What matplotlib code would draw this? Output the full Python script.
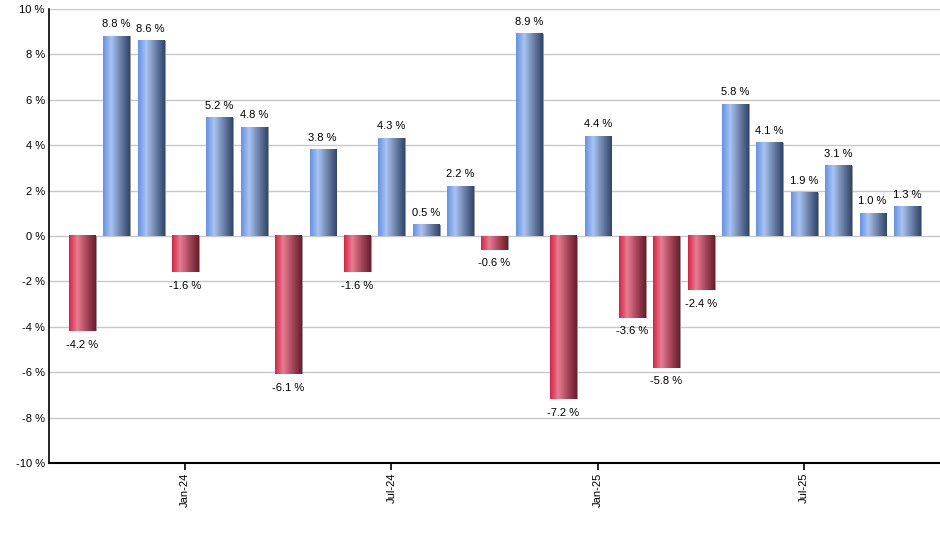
import matplotlib
matplotlib.use('Agg')
import matplotlib.pyplot as plt
import numpy as np
from matplotlib.colors import LinearSegmentedColormap

plt.rcParams['font.family'] = ['Liberation Sans', 'DejaVu Sans']

# monthly returns, Oct-23 .. Oct-25
months = ['Oct-23', 'Nov-23', 'Dec-23', 'Jan-24', 'Feb-24', 'Mar-24', 'Apr-24',
          'May-24', 'Jun-24', 'Jul-24', 'Aug-24', 'Sep-24', 'Oct-24', 'Nov-24',
          'Dec-24', 'Jan-25', 'Feb-25', 'Mar-25', 'Apr-25', 'May-25', 'Jun-25',
          'Jul-25', 'Aug-25', 'Sep-25', 'Oct-25']
returns = [-4.2, 8.8, 8.6, -1.6, 5.2, 4.8, -6.1, 3.8, -1.6, 4.3, 0.5, 2.2,
           -0.6, 8.9, -7.2, 4.4, -3.6, -5.8, -2.4, 5.8, 4.1, 1.9, 3.1, 1.0, 1.3]
tick_months = ['Jan-24', 'Jul-24', 'Jan-25', 'Jul-25']

blue = LinearSegmentedColormap.from_list(
    'blue', [(0, '#6592e4'), (0.3, '#a9c4f2'), (0.65, '#6d83aa'), (1, '#31466c')])
red = LinearSegmentedColormap.from_list(
    'red', [(0, '#d62446'), (0.3, '#e87c92'), (0.65, '#a8485c'), (1, '#6c1c2c')])

fig = plt.figure(figsize=(9.4, 5.5), dpi=100)
ax = fig.add_axes([49 / 940, 1 - 463 / 550, 1 - 49 / 940, (463 - 9) / 550])

x = np.arange(len(returns))
width = 0.76
grad = np.linspace(0, 1, 64).reshape(1, -1)
bars = ax.bar(x, returns, width=width, color='none', edgecolor='none', zorder=3)
for b, v in zip(bars, returns):
    x0 = b.get_x()
    # thin shadow at the right edge
    ax.bar(x0 + width + 0.02, v, width=0.06, color='#9a9a9a', align='center', zorder=2)
    ax.imshow(grad, cmap=blue if v >= 0 else red, aspect='auto',
              extent=(x0, x0 + width, 0, v), zorder=3, interpolation='bilinear')
    if v >= 0:
        ax.annotate(f'{v:.1f} %', (x0 + width / 2, v), xytext=(0, 5),
                    textcoords='offset points', ha='center', va='bottom', fontsize=8)
    else:
        ax.annotate(f'{v:.1f} %', (x0 + width / 2, v), xytext=(0, -6),
                    textcoords='offset points', ha='center', va='top', fontsize=8)

ax.set_xlim(-0.96, len(returns) - 0.04)
ax.set_ylim(-10, 10)
ax.set_yticks(np.arange(-10, 11, 2))
ax.set_yticklabels([f'{t} %' for t in range(-10, 11, 2)], fontsize=8)
ax.tick_params(axis='y', length=0, pad=3)
ax.set_xticks([months.index(m) for m in tick_months])
ax.set_xticklabels(tick_months, rotation=90, fontsize=8)
ax.tick_params(axis='x', length=5, width=1.2, pad=2)

ax.grid(axis='y', color='#c8c8c8', linewidth=1, zorder=0)
ax.set_axisbelow(True)
for s in ['top', 'right']:
    ax.spines[s].set_visible(False)
ax.spines['left'].set_linewidth(1.2)
ax.spines['bottom'].set_linewidth(1.5)

fig.savefig('out.png', dpi=100)
